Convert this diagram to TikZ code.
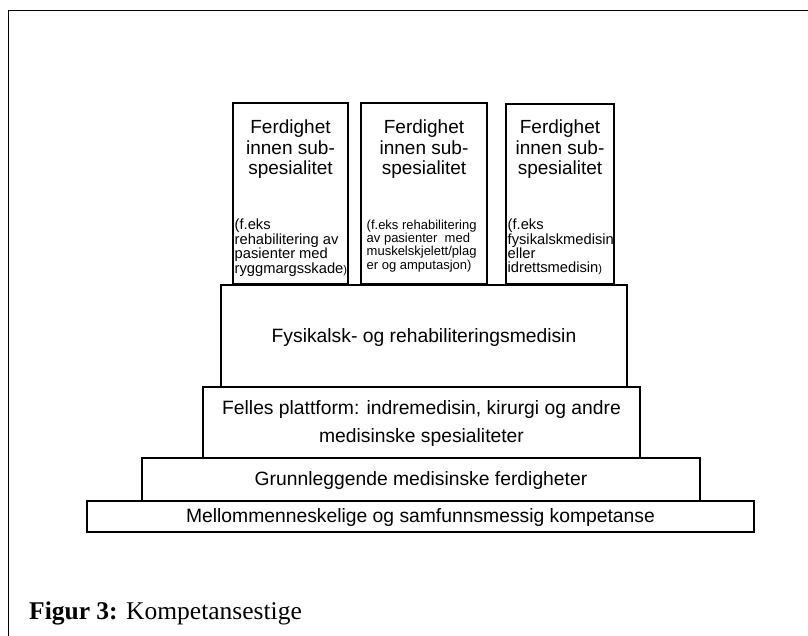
\documentclass[tikz,border=0pt]{standalone}
\usepackage{fontspec}
\setmainfont{Liberation Sans}
\newfontfamily\capfont{Liberation Serif}
\tikzset{
	boks/.style={draw, line width=1.1pt},
	hoved/.style={font=\fontsize{19.3}{28}\selectfont, align=center, inner sep=0pt},
	tittel/.style={font=\fontsize{19}{20.3}\selectfont, align=center, inner sep=0pt, anchor=north},
	liten/.style={font=\fontsize{14.7}{13.4}\selectfont, align=left, inner sep=0pt, anchor=north west}
}
\newcommand{\liteparentes}{{\fontsize{11}{12}\selectfont)}}
\begin{document}
\begin{tikzpicture}[x=1pt,y=-1pt]
		\useasboundingbox (0,0) rectangle (808,635);
		%Ramme
		\draw[line width=1.8pt] (8.5,640) -- (8.5,10.5) -- (812,10.5);
		%Trappetrinn
		\draw[boks] (87,501) rectangle (754,532);
		\draw[boks] (142,458) rectangle (700,501);
		\draw[boks] (203,387) rectangle (640,458);
		\draw[boks] (221,285) rectangle (627,387);
		%Tre bokser
		\draw[boks] (233,103) rectangle (348,284);
		\draw[boks] (361,103) rectangle (487,284);
		\draw[boks] (506,104) rectangle (614,284);
		
		%Tekst trinn
		\node[hoved] (mellom) at (420.5,517.5) {Mellommenneskelige og samfunnsmessig kompetanse};
		\node[hoved] (grunn) at (421,480.5) {Grunnleggende medisinske ferdigheter};
		\node[hoved] (felles) at (421.5,423.5) {Felles plattform: indremedisin, kirurgi og andre\\medisinske spesialiteter};
		\node[hoved] (fysmed) at (424,337.5) {Fysikalsk- og rehabiliteringsmedisin};
		
		%Tekst bokser
		\node[tittel] (ferdA) at (290.5,120) {Ferdighet\\innen sub-\\spesialitet};
		\node[tittel] (ferdB) at (424,120) {Ferdighet\\innen sub-\\spesialitet};
		\node[tittel] (ferdC) at (560,120) {Ferdighet\\innen sub-\\spesialitet};
		\node[liten] (eksA) at (234.5,218.5) {(f.eks\\rehabilitering av\\pasienter med\\ryggmargsskade\liteparentes};
		\node[liten, font=\fontsize{13}{13.4}\selectfont] (eksB) at (366.5,219.5) {(f.eks rehabilitering\\av pasienter\ \ med\\muskelskjelett/plag\\er og amputasjon)};
		\node[liten] (eksC) at (507.5,218.5) {(f.eks\\fysikalskmedisin\\eller\\idrettsmedisin\liteparentes};
		
		%Figurtekst
		\node[anchor=base west, inner sep=0pt, font=\capfont\fontsize{25.5}{27}\selectfont] (figtekst) at (29,619) {\textbf{Figur 3:} Kompetansestige};
	\end{tikzpicture}
\end{document}
